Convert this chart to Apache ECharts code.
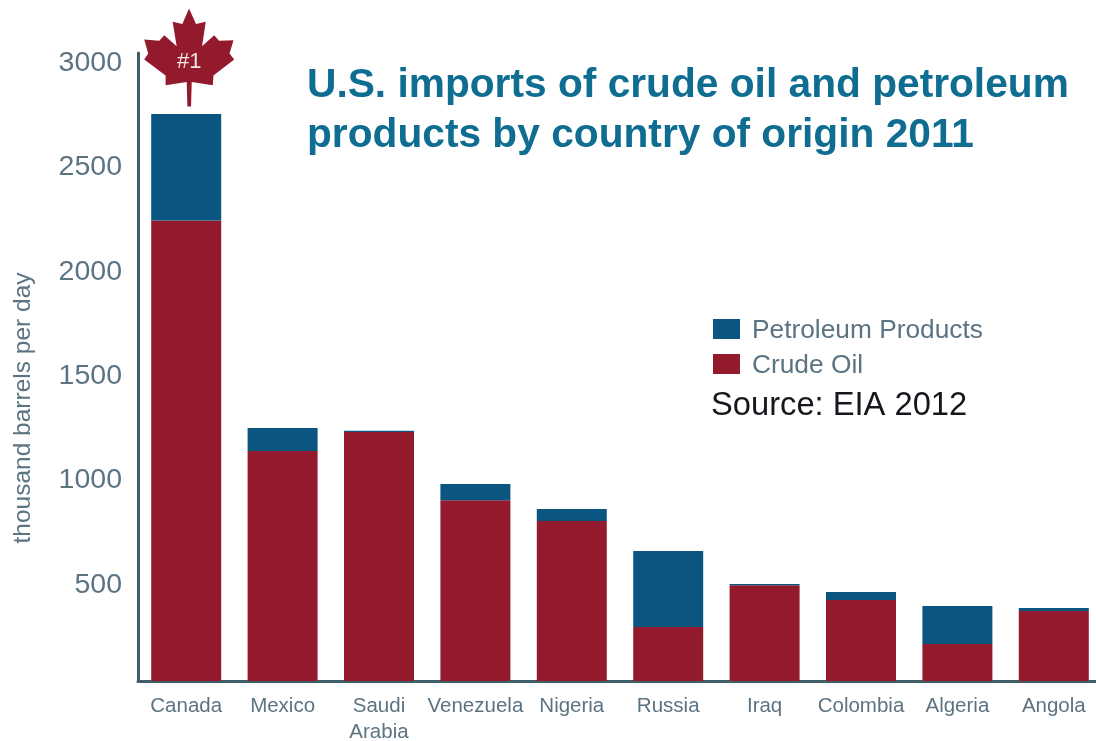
<!DOCTYPE html>
<html><head><meta charset="utf-8">
<style>html,body{margin:0;padding:0;background:#fff}#c{width:1096px;height:741px}</style>
<script src="https://cdn.jsdelivr.net/npm/echarts@6/dist/echarts.min.js"></script>
</head><body><div id="c"></div>
<script>
const categories = ['Canada','Mexico','Saudi\nArabia','Venezuela','Nigeria','Russia','Iraq','Colombia','Algeria','Angola'];
const crudeOil = [2236,1132,1223,897,797,289,490,419,208,366];
const petroleumProducts = [510,110,6,77,57,364,5,38,182,14];
const yTicks = [500,1000,1500,2000,2500,3000];
const yMin = 31, yMax = 3038;
const leaf = 'path://M567 25L588 72L617 65L606 138L642 105L657 122L700 120L688 160L702 178L640 226L638 255L575 245L573 318L562 318L560 245L497 255L497 226L433 178L445 160L433 118L478 122L493 105L530 138L518 65L547 72Z';
const grey = '#5c7382', font = '"Liberation Sans", Arial, sans-serif';
const chart = echarts.init(document.getElementById('c'));
chart.setOption({
  animation:false,
  backgroundColor:'#fff',
  textStyle:{fontFamily:font},
  title:[
    {text:'U.S. imports of crude oil and petroleum\nproducts by country of origin 2011',left:302,top:56,
     textStyle:{color:'#0f6d92',fontSize:40.7,fontWeight:'bold',lineHeight:50,fontFamily:font}},
    {text:'Source: EIA 2012',left:706,top:384,textStyle:{color:'#14181c',fontSize:32.7,fontWeight:'normal',fontFamily:font}}
  ],
  legend:{left:708,top:313,orient:'vertical',icon:'rect',itemWidth:27,itemHeight:20,itemGap:9,
    data:['Petroleum Products','Crude Oil'],
    formatter:n=>`{t|${n}}`,
    textStyle:{rich:{t:{color:grey,fontSize:26.3,fontFamily:font,padding:[4,0,0,7]}}}},
  grid:{left:138,right:-6,top:53,bottom:60,outerBoundsMode:'none'},
  xAxis:{type:'category',data:categories,
    axisLine:{lineStyle:{color:'#3f5e68',width:3}},axisTick:{show:false},
    axisLabel:{color:grey,fontSize:20.5,margin:12,lineHeight:26,interval:0}},
  yAxis:{type:'value',min:yMin,max:yMax,
    name:'thousand barrels per day',nameLocation:'middle',nameGap:102,
    nameTextStyle:{color:grey,fontSize:24.5,fontFamily:font,padding:[0,82,0,0]},
    splitLine:{show:false},
    axisLine:{show:true,lineStyle:{color:'#3f5e68',width:3}},axisTick:{show:false},
    axisLabel:{margin:16,customValues:yTicks,formatter:v=>`{n|${v}}`,
      rich:{n:{color:grey,fontSize:28.5,fontFamily:font,padding:[4,0,0,0]}}}},
  series:[
    {name:'Crude Oil',type:'bar',stack:'t',data:crudeOil,barWidth:70,itemStyle:{color:'#921a2c'}},
    {name:'Petroleum Products',type:'bar',stack:'t',data:petroleumProducts,barWidth:70,itemStyle:{color:'#0b5680'},
     markPoint:{silent:true,symbol:leaf,symbolSize:[90,98],symbolOffset:[3,0],
       itemStyle:{color:'#921a2c'},
       data:[{coord:['Canada',3017]}],
       label:{show:true,formatter:'#1',color:'#f1e4e4',fontSize:22,offset:[0,5],position:'inside'}}}
  ]
});
</script></body></html>
